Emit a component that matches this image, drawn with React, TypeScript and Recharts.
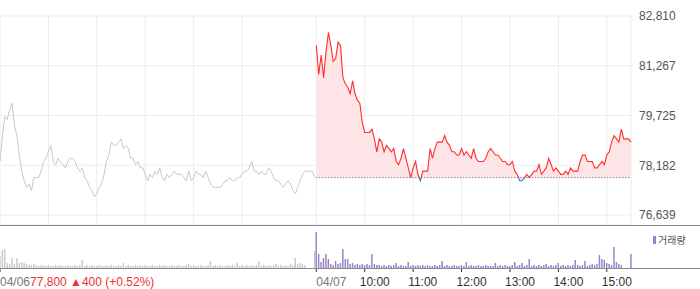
import React from "react";
import {
  ComposedChart,
  Line,
  Area,
  Bar,
  XAxis,
  YAxis,
  CartesianGrid,
  ReferenceLine,
} from "recharts";

// 04/06, 3-minute samples from 09:00 to 15:30
const PREV_PRICE = [
  78300, 79100, 79700, 79600, 79900, 80100, 79400, 79100, 78500, 78000,
  77700, 77500, 77600, 77400, 77800, 77800, 77800, 78000, 78300, 78400,
  78600, 78800, 78300, 78200, 78400, 78300, 78200, 78100, 78300, 78400,
  78400, 78300, 78100, 78000, 78100, 77800, 77700, 77500, 77400, 77200,
  77300, 77500, 77600, 77900, 78300, 78500, 78900, 78800, 78800, 78900,
  79000, 78700, 78800, 78700, 78400, 78400, 78200, 78300, 78100, 78100,
  77900, 77700, 77900, 77800, 78000, 77900, 78100, 77800, 77700, 77900,
  77800, 77900, 78000, 77900, 77900, 77900, 77800, 77700, 78000, 77700,
  77800, 78000, 77900, 77900, 77800, 78000, 77800, 77600, 77500, 77500,
  77500, 77500, 77600, 77700, 77700, 77800, 77700, 77700, 77800, 77800,
  77900, 78000, 78000, 78100, 78300, 78000, 78000, 77900, 78000, 77900,
  77900, 78100, 78000, 77800, 77700, 77700, 77600, 77500, 77600, 77700,
  77600, 77400, 77300, 77500, 77700, 77900, 78000, 78000, 78000, 78000,
  77800,
];

// 04/07, 3-minute samples from 09:00 to 15:30
const CUR_PRICE = [
  81900, 81000, 81600, 80900, 81700, 82300, 81900, 81400, 81500, 82000,
  81900, 80900, 80700, 80600, 80400, 80800, 80400, 80200, 80100, 79500,
  79200, 79200, 79200, 79300, 79000, 78600, 79000, 78900, 78600, 78800,
  78700, 78600, 78700, 78300, 78200, 78400, 78700, 78400, 78100, 77800,
  78100, 78300, 77900, 77700, 78000, 78000, 78000, 78700, 78400, 78700,
  78900, 78900, 78900, 79100, 78900, 78800, 78600, 78600, 78500, 78500,
  78700, 78500, 78600, 78500, 78400, 78700, 78400, 78300, 78300, 78300,
  78400, 78600, 78700, 78600, 78500, 78500, 78400, 78300, 78300, 78200,
  78200, 78300, 78000, 77900, 77700, 77700, 77800, 77900, 77800, 77900,
  78000, 78000, 78200, 77900, 78000, 78100, 78400, 78200, 78000, 78100,
  78000, 77900, 77900, 78000, 77900, 78100, 78000, 78000, 78000, 78300,
  78500, 78500, 78300, 78300, 78300, 78100, 78100, 78200, 78300, 78200,
  78500, 78600, 78900, 79100, 79000, 78900, 79300, 79000, 79000, 79000,
  78900,
];

const PREV_VOL = [
  120, 180, 190, 50, 40, 100, 40, 100, 50, 60,
  50, 40, 30, 30, 40, 30, 20, 30, 30, 20,
  30, 20, 20, 30, 20, 30, 20, 20, 30, 20,
  20, 30, 20, 30, 80, 20, 30, 20, 30, 20,
  20, 30, 20, 20, 30, 20, 30, 20, 20, 30,
  20, 50, 20, 30, 20, 20, 30, 20, 30, 20,
  30, 20, 20, 30, 20, 20, 30, 20, 30, 20,
  20, 30, 20, 20, 30, 20, 20, 30, 40, 20,
  30, 20, 20, 30, 20, 20, 30, 70, 20, 30,
  20, 30, 20, 20, 30, 20, 30, 20, 50, 20,
  30, 20, 30, 20, 30, 20, 30, 70, 20, 30,
  20, 30, 20, 30, 40, 20, 30, 20, 30, 20,
  40, 30, 100, 40, 50, 40, 30, 0, 0, 0,
  170,
];

const CUR_VOL = [
  360, 140, 60, 100, 140, 90, 40, 30, 70, 40,
  50, 190, 90, 90, 40, 50, 30, 40, 30, 40,
  30, 40, 30, 140, 40, 30, 30, 20, 30, 20,
  30, 20, 30, 50, 20, 30, 20, 20, 60, 20,
  30, 20, 30, 20, 30, 20, 30, 20, 20, 30,
  20, 30, 70, 20, 30, 20, 20, 30, 20, 20,
  30, 20, 60, 20, 30, 20, 20, 30, 20, 20,
  30, 20, 20, 20, 50, 20, 30, 20, 30, 20,
  20, 30, 60, 20, 30, 50, 20, 30, 90, 20,
  30, 20, 30, 20, 30, 40, 20, 30, 20, 30,
  50, 20, 30, 20, 30, 20, 30, 80, 30, 20,
  30, 70, 20, 30, 40, 30, 40, 130, 90, 80,
  50, 40, 30, 210, 60, 40, 30, 0, 0, 0,
  140,
];

const PREV_DATE = "04/06";
const CUR_DATE = "04/07";
const HOUR_LABELS = ["10:00", "11:00", "12:00", "13:00", "14:00", "15:00"];
const PREV_CLOSE = 77800;
const PREV_CHANGE = 400;
const PREV_RATE = 0.52;
const Y_TICKS = [76639, 78182, 79725, 81267, 82810];

const STEP = 3; // minutes per sample
const DAY2_START = 392;
const X_MAX = 782;
const GRID_TICKS = [0, 60, 120, 180, 240, 300, 360, 392, 452, 512, 572, 632, 692, 752];
const LABEL_TICKS = [0, 392, 452, 512, 572, 632, 692, 752];

const data = [
  ...PREV_PRICE.map((p, i) => ({ t: i * STEP, prev: p, vPrev: PREV_VOL[i] })),
  ...CUR_PRICE.map((p, i) => ({ t: DAY2_START + i * STEP, cur: p, vCur: CUR_VOL[i] })),
];

const hi = Math.max(...CUR_PRICE);
const lo = Math.min(...CUR_PRICE);
const split = (hi - PREV_CLOSE) / (hi - lo);

const RED = "#ff2e2e";
const BLUE = "#3b78d8";

function TimeTick({ x, y, payload }: any) {
  const t = payload.value;
  if (t === 0) {
    return (
      <text x={x} y={y + 12} fontSize={12} fill="#777" textAnchor="start">
        {PREV_DATE}
        <tspan fill="#f03030">
          {`${PREV_CLOSE.toLocaleString()} ▲${PREV_CHANGE} (+${PREV_RATE}%)`}
        </tspan>
      </text>
    );
  }
  if (t === DAY2_START) {
    return (
      <text x={x} y={y + 12} fontSize={12} fill="#777" textAnchor="start">
        {CUR_DATE}
      </text>
    );
  }
  const idx = Math.round((t - DAY2_START) / 60) - 1;
  return (
    <text x={x - 5} y={y + 12} fontSize={12} fill="#333" textAnchor="start">
      {HOUR_LABELS[idx]}
    </text>
  );
}

export default function App() {
  return (
    <div
      style={{
        position: "absolute",
        left: 0,
        top: 0,
        width: 700,
        height: 289,
        background: "#fff",
        fontFamily: "'Liberation Sans', Arial, sans-serif",
      }}
    >
      <ComposedChart
        width={700}
        height={226}
        data={data}
        margin={{ top: 16, right: 0, bottom: 1, left: 0 }}
      >
        <defs>
          <linearGradient id="lineGrad" x1="0" y1="0" x2="0" y2="1">
            <stop offset={split} stopColor={RED} />
            <stop offset={split} stopColor={BLUE} />
          </linearGradient>
          <linearGradient id="fillGrad" x1="0" y1="0" x2="0" y2="1">
            <stop offset={split} stopColor="#fde4e6" />
            <stop offset={split} stopColor="#e3ecfa" />
          </linearGradient>
        </defs>
        <CartesianGrid stroke="#ececec" />
        <XAxis type="number" dataKey="t" domain={[0, X_MAX]} ticks={GRID_TICKS} hide />
        <YAxis
          orientation="right"
          domain={[76330, 82810]}
          ticks={Y_TICKS}
          interval={0}
          width={69}
          axisLine={false}
          tickLine={false}
          tickSize={0}
          tickMargin={8}
          tick={{ fontSize: 12, fill: "#555" }}
          tickFormatter={(v: number) => v.toLocaleString()}
        />
        <Line
          type="linear"
          dataKey="prev"
          stroke="#c8c9ce"
          strokeWidth={1}
          dot={false}
          isAnimationActive={false}
        />
        <Area
          type="linear"
          dataKey="cur"
          baseValue={PREV_CLOSE}
          stroke="url(#lineGrad)"
          strokeWidth={1.1}
          fill="url(#fillGrad)"
          fillOpacity={1}
          dot={false}
          isAnimationActive={false}
        />
        <ReferenceLine
          segment={[
            { x: DAY2_START, y: PREV_CLOSE },
            { x: X_MAX, y: PREV_CLOSE },
          ]}
          stroke="#555"
          strokeDasharray="1 2"
        />
      </ComposedChart>

      <div style={{ position: "absolute", left: 0, top: 225, width: 700, height: 1, background: "#8a8a8a" }} />

      <div style={{ position: "absolute", left: 0, top: 226 }}>
        <ComposedChart
          width={700}
          height={63}
          data={data}
          margin={{ top: 0, right: 69, bottom: 0, left: 0 }}
        >
          <XAxis
            type="number"
            dataKey="t"
            domain={[0, X_MAX]}
            ticks={LABEL_TICKS}
            interval={0}
            axisLine={false}
            tickSize={4}
            tickLine={{ stroke: "#333" }}
            tick={<TimeTick />}
            height={21}
          />
          <YAxis hide domain={[0, 420]} />
          <Bar dataKey="vPrev" stackId="v" fill="#c8c9ce" barSize={2} isAnimationActive={false} />
          <Bar dataKey="vCur" stackId="v" fill="#9682c6" barSize={2} isAnimationActive={false} />
        </ComposedChart>
      </div>

      <div style={{ position: "absolute", left: 0, top: 268, width: 700, height: 1, background: "#8a8a8a" }} />

      <div
        style={{
          position: "absolute",
          left: 653,
          top: 232,
          display: "flex",
          alignItems: "center",
          fontSize: 10,
          color: "#555",
          fontFamily: "'Noto Sans CJK KR', sans-serif",
        }}
      >
        <span style={{ display: "inline-block", width: 3, height: 8, background: "#9682c6", marginRight: 2 }} />
        <span>거래량</span>
      </div>
    </div>
  );
}
